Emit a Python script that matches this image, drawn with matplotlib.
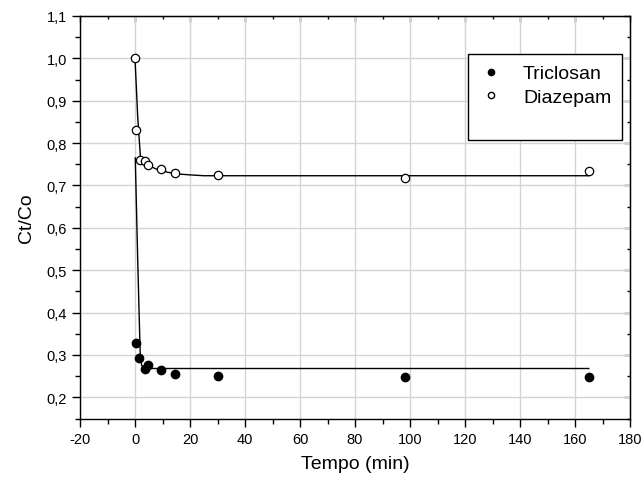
import matplotlib
matplotlib.use("Agg")
import matplotlib.pyplot as plt
from matplotlib.ticker import MultipleLocator, FuncFormatter
from matplotlib.lines import Line2D

plt.rcParams['font.family'] = ['Liberation Sans', 'DejaVu Sans']

# Data
tric_t = [0.5, 1.6, 3.8, 4.9, 9.6, 14.7, 30, 98, 165]
tric_c = [0.328, 0.292, 0.268, 0.276, 0.264, 0.256, 0.251, 0.248, 0.248]
diaz_t = [0, 0.5, 1.7, 3.8, 4.6, 9.6, 14.7, 30, 98, 165]
diaz_c = [1.0, 0.832, 0.761, 0.757, 0.749, 0.738, 0.729, 0.725, 0.718, 0.733]

# Fitted curves
tric_fit_t = [0.1, 1.0, 1.9, 2.4, 3.0, 4.0, 6.0, 165]
tric_fit_c = [0.765, 0.52, 0.30, 0.276, 0.271, 0.269, 0.268, 0.268]
diaz_fit_t = [0, 1.0, 2.0, 3.0, 5.0, 8.0, 12.0, 16.0, 20.0, 25.0, 165]
diaz_fit_c = [1.0, 0.86, 0.765, 0.755, 0.747, 0.738, 0.731, 0.727, 0.725, 0.723, 0.723]

xticks = list(range(-20, 181, 20))
yticks = [0.2, 0.3, 0.4, 0.5, 0.6, 0.7, 0.8, 0.9, 1.0, 1.1]

fig = plt.figure(figsize=(6.41, 4.85), dpi=100)
ax = fig.add_axes([80/641, 1-419.5/485, (630-80)/641, (419.5-17)/485])

ax.plot(tric_fit_t, tric_fit_c, color='black', lw=1.0, zorder=2)
ax.plot(diaz_fit_t, diaz_fit_c, color='black', lw=1.0, zorder=2)
ax.plot(tric_t, tric_c, 'o', color='black', ms=6.0, zorder=3)
ax.plot(diaz_t, diaz_c, 'o', mfc='white', mec='black', mew=0.9, ms=6.0, zorder=3)

ax.set_xlim(-20, 180)
ax.set_ylim(0.15, 1.1)
ax.set_xticks(xticks)
ax.set_yticks(yticks)
ax.xaxis.set_minor_locator(MultipleLocator(10))
ax.yaxis.set_minor_locator(MultipleLocator(0.05))
ax.xaxis.set_major_formatter(FuncFormatter(lambda v, p: f"{v:.0f}".replace('\u2212', '-')))
ax.yaxis.set_major_formatter(FuncFormatter(lambda v, p: f"{v:.1f}".replace('.', ',')))
ax.grid(True, which='major', color='#d4d4d4', lw=1.0, zorder=0)
ax.set_axisbelow(True)

ax.tick_params(which='both', direction='out', labelsize=10.5, colors='black', width=1.0)
ax.tick_params(which='major', length=6)
ax.tick_params(which='minor', length=3.3)

# inward ticks on top and right
axt = ax.secondary_xaxis('top')
axt.set_xticks(xticks)
axt.xaxis.set_minor_locator(MultipleLocator(10))
axt.tick_params(which='both', direction='in', labeltop=False, width=1.0)
axt.tick_params(which='major', length=4.5)
axt.tick_params(which='minor', length=2.5)
axr = ax.secondary_yaxis('right')
axr.set_yticks(yticks)
axr.yaxis.set_minor_locator(MultipleLocator(0.05))
axr.tick_params(which='both', direction='in', labelright=False, width=1.0)
axr.tick_params(which='major', length=4.5)
axr.tick_params(which='minor', length=2.5)

for s in ax.spines.values():
    s.set_linewidth(1.0)

ax.set_xlabel('Tempo (min)', fontsize=14, labelpad=7)
ax.set_ylabel('Ct/Co', fontsize=14, labelpad=8)

handles = [
    Line2D([], [], marker='o', ls='none', color='black', ms=4.5),
    Line2D([], [], marker='o', ls='none', mfc='white', mec='black', ms=4.5),
    Line2D([], [], ls='none'),
]
leg = ax.legend(handles, ['Triclosan', 'Diazepam', ' '], loc='upper right',
                bbox_to_anchor=(622/641, 1-55/485), bbox_transform=fig.transFigure,
                fontsize=14, frameon=True, fancybox=False, edgecolor='black',
                framealpha=1, borderpad=0.55, handletextpad=1.0, labelspacing=0.3,
                borderaxespad=0, handlelength=1.3)
leg.get_frame().set_linewidth(1.0)

fig.savefig('out.png', dpi=100)
